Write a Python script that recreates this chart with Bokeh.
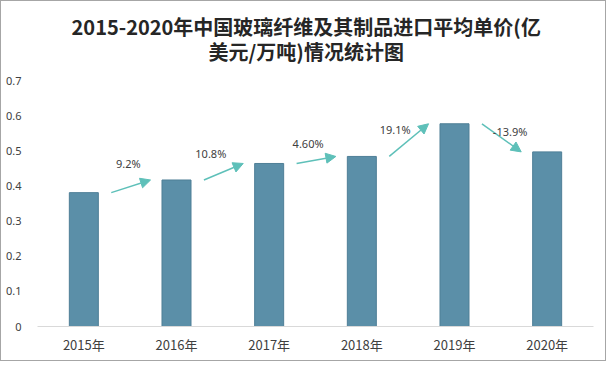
from bokeh.plotting import figure
from bokeh.models import (Range1d, FixedTicker, NumeralTickFormatter, Arrow,
                          NormalHead, Label, ColumnDataSource)
from bokeh.core.properties import value
from bokeh.embed import file_html
from bokeh.resources import INLINE

# ---------------- data ----------------
years = ["2015年", "2016年", "2017年", "2018年", "2019年", "2020年"]
prices = [0.381, 0.417, 0.464, 0.484, 0.577, 0.497]
growth_labels = ["9.2%", "10.8%", "4.60%", "19.1%", "-13.9%"]
y_ticks = [0, 0.1, 0.2, 0.3, 0.4, 0.5, 0.6, 0.7]
title_lines = ["2015-2020年中国玻璃纤维及其制品进口平均单价(亿",
               "美元/万吨)情况统计图"]

# ---------------- layout tweaks (not data) ----------------
label_dx = [-0.02, -0.13, -0.08, -0.14, 0.10]
label_dy = [0.066, 0.053, 0.046, 0.031, 0.018]

BAR = "#5b8fa8"
ARROW = "#5ec0b9"
TEXT = "#404040"

idx = list(range(len(years)))

p = figure(width=606, height=361,
           x_range=Range1d(-0.5, len(years) - 0.5),
           y_range=Range1d(0, 0.925),
           output_backend="svg", toolbar_location=None,
           min_border_left=36, min_border_right=14,
           min_border_top=0, min_border_bottom=36)
p.styles = {"border": "1px solid #a6a6a6"}
p.outline_line_color = None
p.xgrid.visible = False
p.ygrid.visible = False
p.background_fill_color = "white"
p.border_fill_color = "white"

# bars
bars = ColumnDataSource(dict(x=idx, top=prices))
p.vbar(x="x", top="top", width=0.313, source=bars,
       fill_color=BAR, line_color="#4f7f97", line_width=1)

# growth arrows
arr = ColumnDataSource(dict(
    x0=[i + 0.296 for i in idx[:-1]],
    y0=prices[:-1],
    x1=[i + 0.72 for i in idx[:-1]],
    y1=prices[1:],
))
p.add_layout(Arrow(x_start="x0", y_start="y0", x_end="x1", y_end="y1",
                   source=arr, line_color=ARROW, line_width=1.5,
                   end=NormalHead(size=10, fill_color=ARROW, line_color=ARROW)))

lab = ColumnDataSource(dict(
    x=[i + 0.5 + label_dx[i] for i in idx[:-1]],
    y=[(prices[i] + prices[i + 1]) / 2 + label_dy[i] for i in idx[:-1]],
    t=growth_labels,
))
p.text(x="x", y="y", text="t", source=lab, text_align="center",
       text_baseline="middle", text_font=value("Noto Sans"),
       text_font_size="11px", text_color=TEXT, level="overlay")

# title
for k, line in enumerate(title_lines):
    p.add_layout(Label(x=2.40, y=0.8546 - 0.072 * k, text=line,
                       text_align="center", text_baseline="middle",
                       text_font="Noto Sans CJK SC", text_font_size="20px",
                       text_font_style="bold", text_color="#262626"))

# axes
xa = p.xaxis[0]
xa.ticker = FixedTicker(ticks=idx)
xa.major_label_overrides = {i: y for i, y in enumerate(years)}
xa.axis_line_color = "#d9d9d9"
xa.axis_line_width = 1
xa.major_tick_line_color = None
xa.minor_tick_line_color = None
xa.major_label_standoff = 2
xa.major_label_text_font = "Noto Sans CJK SC"
xa.major_label_text_font_size = "13px"
xa.major_label_text_color = TEXT

ya = p.yaxis[0]
ya.ticker = FixedTicker(ticks=y_ticks)
ya.formatter = NumeralTickFormatter(format="0.[0]")
ya.axis_line_color = None
ya.major_tick_line_color = None
ya.minor_tick_line_color = None
ya.major_label_standoff = 10
ya.major_label_text_font = "Noto Sans"
ya.major_label_text_font_size = "11px"
ya.major_label_text_color = TEXT

open("out.html", "w").write(file_html(p, INLINE))
